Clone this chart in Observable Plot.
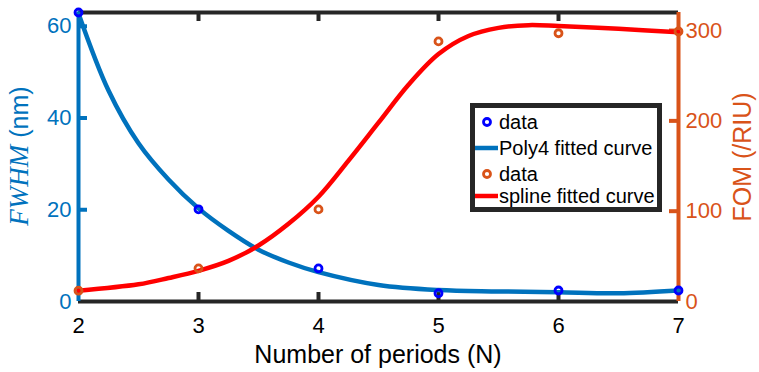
<!DOCTYPE html>
<html>
<head>
<meta charset="utf-8">
<script src="https://cdn.jsdelivr.net/npm/d3@7"></script>
<script src="https://cdn.jsdelivr.net/npm/@observablehq/plot@0.6"></script>
<style>
  html, body { margin: 0; padding: 0; background: #fff; }
  #chart { position: relative; width: 759px; height: 372px; }
  #chart svg { position: absolute; left: 0; top: 0; }
</style>
</head>
<body>
<div id="chart"></div>
<script>
// ---- data ----
const periods = [2, 3, 4, 5, 6, 7];
const fwhmData = [63, 20.1, 7.2, 1.8, 2.4, 2.4];          // nm (left axis)
const fomData = [12, 36.7, 102, 288, 297, 299];          // /RIU (right axis)
const poly4X = [2, 2.25, 2.5, 2.75, 3, 3.25, 3.5, 3.75, 4, 4.5, 5, 5.5, 6, 6.5, 7];
const poly4Y = [62.8, 46, 34.5, 26.6, 20.3, 15.4, 11.3, 8.5, 6.4, 3.6, 2.5, 2.2, 2.0, 1.8, 2.4];
const splineX = [2, 2.5, 2.75, 3, 3.25, 3.5, 3.75, 4, 4.25, 4.5, 4.75, 5, 5.25, 5.5, 5.75, 6, 6.5, 7];
const splineY = [12, 19, 26, 34, 45, 62, 86, 116, 156, 198, 240, 274, 294, 303, 306, 305, 302, 298];
const xTicks = [2, 3, 4, 5, 6, 7];
const leftTicks = [0, 20, 40, 60];
const rightTicks = [0, 100, 200, 300];
const legendLabels = ["data", "Poly4 fitted curve", "data", "spline fitted curve"];

// ---- tables ----
const fwhmPts = periods.map((p, i) => ({x: p, y: fwhmData[i]}));
const fomPts = periods.map((p, i) => ({x: p, y: fomData[i]}));
const poly4 = poly4X.map((x, i) => ({x, y: poly4Y[i]}));
const spline = splineX.map((x, i) => ({x, y: splineY[i]}));

const BLUE = "#0072BD", ORANGE = "#D95319", RED = "#FF0000", DOT = "#0000FF", DARK = "#262626";
const W = 759, H = 372, ML = 78, MR = 81, MT = 12, MB = 71;
const innerW = W - ML - MR, innerH = H - MT - MB;
const FONT = "'Liberation Sans', Arial, Helvetica, sans-serif";

function base(yDomain, marks) {
  return Plot.plot({
    width: W, height: H,
    marginLeft: ML, marginRight: MR, marginTop: MT, marginBottom: MB,
    x: {domain: [2, 7], axis: null},
    y: {domain: yDomain, axis: null},
    style: {background: "transparent", fontFamily: FONT, fontSize: "22px", overflow: "visible"},
    marks
  });
}

// Layer 1: left-axis frame
const aAxes = base([0, 63], [
  Plot.ruleY([0, 63], {stroke: DARK, strokeWidth: 4}),
  Plot.tickX([3, 4, 5, 6], {x: d => d, insetTop: innerH - 9, stroke: DARK, strokeWidth: 4}),
  Plot.tickX([3, 4, 5, 6], {x: d => d, insetBottom: innerH - 9, stroke: DARK, strokeWidth: 4}),
  Plot.ruleX([2], {stroke: BLUE, strokeWidth: 4}),
  Plot.tickY([20, 40, 60], {y: d => d, insetRight: innerW - 9, stroke: BLUE, strokeWidth: 4}),
  Plot.axisX(xTicks, {tickSize: 0, tickPadding: 16, fontSize: 22, color: "#000", tickFormat: d3.format("d"), label: null}),
  Plot.axisY(leftTicks, {anchor: "left", tickSize: 0, tickPadding: 7, fontSize: 22, color: BLUE, label: null})
]);

// Layer 2: right-axis
const bAxes = base([0, 320], [
  Plot.ruleX([7], {stroke: ORANGE, strokeWidth: 4}),
  Plot.tickY([100, 200, 300], {y: d => d, insetLeft: innerW - 9, stroke: ORANGE, strokeWidth: 4}),
  Plot.axisY(rightTicks, {anchor: "right", tickSize: 0, tickPadding: 7, fontSize: 22, color: ORANGE, label: null})
]);

// Layer 3: FWHM data
const aData = base([0, 63], [
  Plot.line(poly4, {x: "x", y: "y", stroke: BLUE, strokeWidth: 4.5, curve: "catmull-rom"}),
  Plot.dot(fwhmPts, {x: "x", y: "y", r: 3.5, stroke: DOT, strokeWidth: 2.8, fill: "none"})
]);

// Layer 4: FOM data
const bData = base([0, 320], [
  Plot.line(spline, {x: "x", y: "y", stroke: RED, strokeWidth: 4.5, curve: "catmull-rom"}),
  Plot.dot(fomPts, {x: "x", y: "y", r: 3.5, stroke: ORANGE, strokeWidth: 2.8, fill: "none"})
]);

const host = document.getElementById("chart");
[aAxes, bAxes, aData, bData].forEach(s => host.appendChild(s));

// axis titles
const s1 = d3.select(aAxes);
s1.append("text")
  .attr("x", (ML + W - MR) / 2).attr("y", 354)
  .attr("text-anchor", "middle").attr("dominant-baseline", "central")
  .attr("font-family", FONT).attr("font-size", 25).attr("fill", "#000")
  .text("Number of periods (N)");
const yl = s1.append("text")
  .attr("transform", "translate(19,156) rotate(-90)")
  .attr("text-anchor", "middle").attr("dominant-baseline", "central")
  .attr("fill", BLUE);
yl.append("tspan").attr("font-family", "'Liberation Serif', 'Times New Roman', serif")
  .attr("font-style", "italic").attr("font-size", 27).text("FWHM");
yl.append("tspan").attr("font-family", FONT).attr("font-size", 25).text(" (nm)");
s1.append("text")
  .attr("transform", "translate(742,157) rotate(-90)")
  .attr("text-anchor", "middle").attr("dominant-baseline", "central")
  .attr("font-family", FONT).attr("font-size", 25).attr("fill", ORANGE)
  .text("FOM (/RIU)");

// legend
const lg = d3.select(bData).append("g").attr("text-anchor", "start");
lg.append("rect").attr("x", 472.5).attr("y", 105.5).attr("width", 187).attr("height", 104)
  .attr("fill", "#fff").attr("stroke", DARK).attr("stroke-width", 5);
const rows = [122, 148, 174, 196];
const kinds = [
  {type: "dot", color: DOT}, {type: "line", color: BLUE},
  {type: "dot", color: ORANGE}, {type: "line", color: RED}
];
kinds.forEach((k, i) => {
  if (k.type === "dot") {
    lg.append("circle").attr("cx", 487).attr("cy", rows[i]).attr("r", 3.5)
      .attr("fill", "none").attr("stroke", k.color).attr("stroke-width", 2.8);
  } else {
    lg.append("line").attr("x1", 475).attr("x2", 498).attr("y1", rows[i]).attr("y2", rows[i])
      .attr("stroke", k.color).attr("stroke-width", 4.5);
  }
  lg.append("text").attr("x", 499).attr("y", rows[i]).attr("dy", "0.35em")
    .attr("text-anchor", "start")
    .attr("font-family", FONT).attr("font-size", 20).attr("fill", "#000")
    .text(legendLabels[i]);
});
</script>
</body>
</html>
